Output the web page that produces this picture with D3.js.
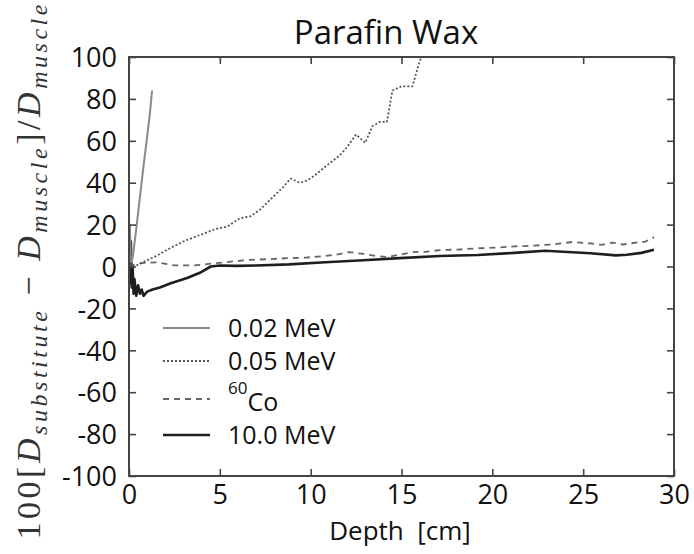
<!DOCTYPE html>
<html><head><meta charset="utf-8">
<script src="https://cdn.jsdelivr.net/npm/d3@7"></script>
<style>body{margin:0;background:#fff} svg{display:block}</style>
</head><body>
<script>
// ---- data ----
const titleText = "Parafin Wax";
const xLabelText = "Depth  [cm]";
const xTicks = [0, 5, 10, 15, 20, 25, 30];
const yTicks = [-100, -80, -60, -40, -20, 0, 20, 40, 60, 80, 100];

const legendLabels = ["0.02 MeV", "0.05 MeV", "60Co", "10.0 MeV"];

const depth002 = [0, 0.05, 0.1, 0.2, 0.4, 0.6, 0.8, 1.0, 1.15, 1.27];
const value002 = [0, 20, 2, 4, 18, 33, 48, 62, 73, 84];

const depth005 = [0, 0.3, 1.0, 1.5, 2.1, 3.0, 3.9, 4.8, 5.4, 6.1, 6.7, 7.2, 7.9, 8.5, 8.9, 9.4, 9.8, 10.3, 11.0, 11.6, 12.0, 12.5, 13.0, 13.4, 13.8, 14.2, 14.5, 15.0, 15.6, 16.0, 16.1];
const value005 = [1, 0, 3, 5, 8, 12, 15, 18, 19, 23, 24, 27, 33, 38, 42, 40, 41, 44, 49, 53, 57, 63, 59, 67, 69, 69, 84, 86, 86, 98, 100];

const depthCo = [0, 0.5, 1.5, 2.5, 3.6, 4.6, 5.6, 6.7, 7.7, 8.8, 9.8, 10.8, 11.5, 12.1, 12.9, 13.6, 14.2, 15.0, 15.6, 16.3, 17.1, 18.1, 19.2, 20.2, 21.2, 22.3, 23.3, 24.4, 25.4, 26.0, 26.6, 27.2, 27.9, 28.4, 28.9];
const valueCo = [0, 1.5, 2, 0.5, 0.5, 1.4, 2.3, 3.2, 3.5, 4, 4.3, 5, 5.8, 6.9, 6, 5, 4.5, 5.8, 6.9, 7, 7.8, 8.1, 8.7, 9, 9.6, 10, 10.5, 11.7, 11, 10.3, 11.4, 10.5, 11.4, 11.8, 14];

const depth10 = [0, 0.05, 0.1, 0.15, 0.2, 0.25, 0.3, 0.4, 0.5, 0.6, 0.7, 0.8, 1.0, 1.3, 1.7, 2.3, 3.2, 3.9, 4.5, 5.0, 5.9, 7, 8.8, 10.8, 12.9, 14.9, 17.1, 19.2, 21.2, 22.9, 24.4, 25.4, 26.8, 27.4, 28.2, 28.9];
const value10 = [5, -8, 12, -10, 0, -13, -6, -14, -9, -13, -11, -14, -12, -11, -10, -8, -5.5, -3, 0, 0.5, 0.3, 0.5, 1, 2, 3, 4, 5, 5.5, 6.5, 7.5, 6.8, 6.3, 5.3, 5.6, 6.5, 8];

// ---- layout ----
const W = 694, H = 554;
const m = {left: 129, right: 20, top: 57, bottom: 78};
const pw = W - m.left - m.right, ph = H - m.top - m.bottom;
const font = "'Open Sans', sans-serif";

const svg = d3.select("body").append("svg").attr("width", W).attr("height", H);
const x = d3.scaleLinear().domain([0, 30]).range([m.left, m.left + pw]);
const y = d3.scaleLinear().domain([-100, 100]).range([m.top + ph, m.top]);

svg.append("defs").append("clipPath").attr("id", "clip")
  .append("rect").attr("x", m.left).attr("y", m.top).attr("width", pw).attr("height", ph);

const series = [
  {d: depth002, v: value002, color: "#8a8a8a", width: 2, dash: null},
  {d: depth005, v: value005, color: "#555", width: 1.8, dash: "2,2"},
  {d: depthCo, v: valueCo, color: "#666", width: 1.8, dash: "6,5"},
  {d: depth10, v: value10, color: "#1e1e1e", width: 2.6, dash: null}
];
const line = d3.line().x(p => x(p[0])).y(p => y(p[1]));
const g = svg.append("g").attr("clip-path", "url(#clip)");
series.slice().reverse().forEach(s => {
  g.append("path").datum(d3.zip(s.d, s.v)).attr("d", line)
    .attr("fill", "none").attr("stroke", s.color).attr("stroke-width", s.width)
    .attr("stroke-dasharray", s.dash).attr("stroke-linejoin", "round");
});

// axes (inward ticks on all sides)
const tl = 7;
const fmt = d => String(d);
const axB = d3.axisBottom(x).tickValues(xTicks).tickSize(-tl).tickPadding(tl + 2).tickFormat(fmt);
const axT = d3.axisTop(x).tickValues(xTicks).tickSize(-tl).tickFormat("");
const axL = d3.axisLeft(y).tickValues(yTicks).tickSize(-tl).tickPadding(tl + 5).tickFormat(fmt);
const axR = d3.axisRight(y).tickValues(yTicks).tickSize(-tl).tickFormat("");
function styleAxis(sel) {
  sel.select(".domain").remove();
  sel.selectAll(".tick line").attr("stroke", "#444").attr("stroke-width", 1.6);
  sel.selectAll(".tick text").attr("font-family", font).attr("font-size", 27).attr("fill", "#111");
}
svg.append("g").attr("transform", `translate(0,${m.top + ph})`).call(axB).call(styleAxis)
  .selectAll(".tick text").attr("dy", "0.72em");
svg.append("g").attr("transform", `translate(0,${m.top})`).call(axT).call(styleAxis);
svg.append("g").attr("transform", `translate(${m.left},0)`).call(axL).call(styleAxis)
  .selectAll(".tick text").attr("dy", "0.36em");
svg.append("g").attr("transform", `translate(${m.left + pw},0)`).call(axR).call(styleAxis);

svg.append("rect").attr("x", m.left).attr("y", m.top).attr("width", pw).attr("height", ph)
  .attr("fill", "none").attr("stroke", "#444").attr("stroke-width", 2);

// title
svg.append("text").attr("x", 386).attr("y", 44).attr("text-anchor", "middle")
  .attr("font-family", font).attr("font-size", 33).attr("fill", "#111").text(titleText);

// x label
svg.append("text").attr("x", 400).attr("y", 540).attr("text-anchor", "middle")
  .attr("font-family", font).attr("font-size", 26).attr("fill", "#111")
  .style("white-space", "pre").text(xLabelText);

// y label (math)
const yl = svg.append("text").attr("transform", "translate(40,272) rotate(-90)")
  .attr("text-anchor", "middle").attr("font-family", "'Liberation Serif', serif")
  .attr("font-size", 34).attr("fill", "#333")
  .attr("textLength", 535).attr("lengthAdjust", "spacing");
const parts = [
  ["100[", "n"], ["D", "i"], ["substitute", "s"], [" \u2212 ", "n"], ["D", "i"], ["muscle", "s"],
  ["]/", "n"], ["D", "i"], ["muscle", "s"]
];
let prevSub = false;
parts.forEach(([t, k]) => {
  const ts = yl.append("tspan").text(t).style("white-space", "pre");
  if (k === "i") ts.attr("font-style", "italic");
  if (k === "s") { ts.attr("font-style", "italic").attr("font-size", 24).attr("dy", 7); prevSub = true; }
  else if (prevSub) { ts.attr("dy", -7); prevSub = false; }
});

// legend
const legY = [328, 361, 399, 435];
series.forEach((s, i) => {
  svg.append("line").attr("x1", 163).attr("x2", 210).attr("y1", legY[i]).attr("y2", legY[i])
    .attr("stroke", s.color).attr("stroke-width", s.width).attr("stroke-dasharray", s.dash);
  if (legendLabels[i] === "60Co") {
    const t = svg.append("text").attr("x", 228).attr("y", legY[i] + 12)
      .attr("font-family", font).attr("font-size", 25).attr("fill", "#111");
    t.append("tspan").attr("font-size", 17).attr("dy", -17).text("60");
    t.append("tspan").attr("dy", 17).text("Co");
  } else {
    svg.append("text").attr("x", 228).attr("y", legY[i] + 9)
      .attr("font-family", font).attr("font-size", 25).attr("fill", "#111").text(legendLabels[i]);
  }
});
</script>
</body></html>
